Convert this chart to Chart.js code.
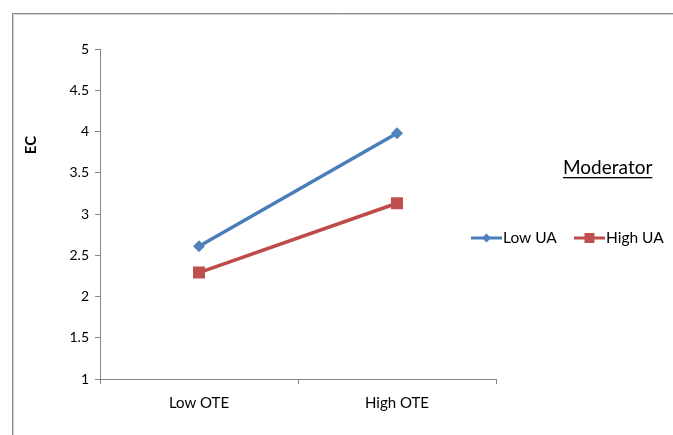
<!DOCTYPE html>
<html>
<head>
<meta charset="utf-8">
<script src="https://cdn.jsdelivr.net/npm/chart.js@4.4.1/dist/chart.umd.min.js"></script>
<style>
  html, body { margin: 0; padding: 0; background: #fff; }
  #wrap { position: relative; width: 673px; height: 435px; }
</style>
</head>
<body>
<div id="wrap"><canvas id="c" width="673" height="435"></canvas></div>
<script>
// Simple-slopes interaction plot: EC by OTE level, split by moderator UA
const categories = ['Low OTE', 'High OTE'];
const lowUA = [2.61, 3.98];
const highUA = [2.29, 3.13];
const seriesNames = ['Low UA', 'High UA'];
const yTicks = [1, 1.5, 2, 2.5, 3, 3.5, 4, 4.5, 5];

const BLUE = '#4A7EBB';
const BLUE_MARK = '#4F81BD';
const RED = '#BE4B48';
const RED_MARK = '#C0504D';
const FONT = 'Lato, "Open Sans", sans-serif';
const AXIS = '#868686';

// Frame, axis title, legend heading and legend entries
const decorations = {
  id: 'decorations',
  afterDraw(chart) {
    const ctx = chart.ctx;
    ctx.save();
    // outer frame (open at the right and bottom edges)
    ctx.lineWidth = 1;
    ctx.strokeStyle = '#8a8a8a';
    ctx.beginPath();
    ctx.moveTo(12.5, 435);
    ctx.lineTo(12.5, 13.5);
    ctx.lineTo(673, 13.5);
    ctx.stroke();
    ctx.strokeStyle = '#cfcfcf';
    ctx.beginPath();
    ctx.moveTo(13.5, 435);
    ctx.lineTo(13.5, 14.5);
    ctx.lineTo(673, 14.5);
    ctx.stroke();

    // y-axis title
    ctx.fillStyle = '#000';
    ctx.font = 'bold 15px ' + FONT;
    ctx.textAlign = 'center';
    ctx.textBaseline = 'middle';
    ctx.translate(31, 145);
    ctx.rotate(-Math.PI / 2);
    ctx.fillText('EC', 0, 0);
    ctx.setTransform(1, 0, 0, 1, 0, 0);

    // legend heading, underlined
    ctx.font = '19px ' + FONT;
    ctx.textAlign = 'left';
    ctx.textBaseline = 'alphabetic';
    const head = 'Moderator';
    const hx = 563, hy = 174;
    ctx.fillText(head, hx, hy);
    const hw = ctx.measureText(head).width;
    ctx.fillRect(hx, hy + 3, hw, 1.3);

    // legend entries
    ctx.font = '15.5px ' + FONT;
    ctx.textBaseline = 'middle';
    const ly = 238;
    const entries = [
      { x: 471, label: seriesNames[0], line: BLUE, mark: BLUE_MARK, style: 'diamond' },
      { x: 574, label: seriesNames[1], line: RED, mark: RED_MARK, style: 'square' }
    ];
    entries.forEach(e => {
      ctx.strokeStyle = e.line;
      ctx.lineWidth = 3;
      ctx.beginPath();
      ctx.moveTo(e.x, ly);
      ctx.lineTo(e.x + 31, ly);
      ctx.stroke();
      ctx.fillStyle = e.mark;
      const cx = e.x + 15.5;
      ctx.beginPath();
      if (e.style === 'diamond') {
        ctx.moveTo(cx, ly - 4.5);
        ctx.lineTo(cx + 4.5, ly);
        ctx.lineTo(cx, ly + 4.5);
        ctx.lineTo(cx - 4.5, ly);
        ctx.closePath();
      } else {
        ctx.rect(cx - 5, ly - 5, 10, 10);
      }
      ctx.fill();
      ctx.fillStyle = '#000';
      ctx.fillText(e.label, e.x + 32, ly);
    });
    ctx.restore();
  }
};

new Chart(document.getElementById('c'), {
  type: 'line',
  data: {
    labels: categories,
    datasets: [
      {
        label: seriesNames[0],
        data: lowUA,
        borderColor: BLUE,
        backgroundColor: BLUE_MARK,
        borderWidth: 3.5,
        pointStyle: 'rectRot',
        pointRadius: 6,
        pointBorderWidth: 0,
        pointBackgroundColor: BLUE_MARK,
        tension: 0
      },
      {
        label: seriesNames[1],
        data: highUA,
        borderColor: RED,
        backgroundColor: RED_MARK,
        borderWidth: 3.5,
        pointStyle: 'rect',
        pointRadius: 8.5,
        pointBorderWidth: 0,
        pointBackgroundColor: RED_MARK,
        tension: 0
      }
    ]
  },
  options: {
    responsive: false,
    animation: false,
    layout: { padding: { top: 49, right: 177, left: 0, bottom: 0 } },
    plugins: { legend: { display: false }, tooltip: { enabled: false } },
    scales: {
      x: {
        offset: true,
        grid: {
          offset: true,
          drawOnChartArea: false,
          drawTicks: true,
          tickLength: 5,
          color: AXIS
        },
        border: { color: AXIS, width: 1 },
        ticks: { color: '#000', font: { family: FONT, size: 15 }, padding: 10 },
        afterFit(scale) { scale.height = 56; }
      },
      y: {
        min: 1,
        max: 5,
        afterBuildTicks(scale) { scale.ticks = yTicks.map(v => ({ value: v })); },
        grid: {
          drawOnChartArea: false,
          drawTicks: true,
          tickLength: 5,
          color: AXIS
        },
        border: { color: AXIS, width: 1 },
        ticks: {
          color: '#000',
          font: { family: FONT, size: 14 },
          padding: 6,
          callback: v => String(v)
        },
        afterFit(scale) { scale.width = 100; }
      }
    }
  },
  plugins: [decorations]
});
</script>
</body>
</html>
